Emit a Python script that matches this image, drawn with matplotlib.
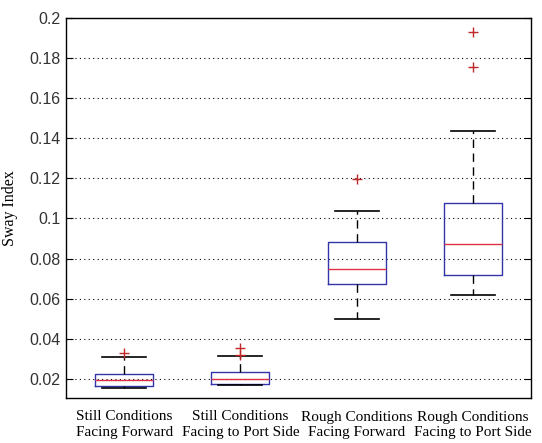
import matplotlib.pyplot as plt

# box statistics
labels = ["Still Conditions\nFacing Forward",
          "Still Conditions\nFacing to Port Side",
          "Rough Conditions\nFacing Forward",
          "Rough Conditions\nFacing to Port Side"]
q1 = [0.0162, 0.0174, 0.0672, 0.0716]
med = [0.0192, 0.0200, 0.0749, 0.0871]
q3 = [0.0225, 0.0232, 0.0882, 0.1078]
whislo = [0.0155, 0.0170, 0.0496, 0.0617]
whishi = [0.0307, 0.0313, 0.1038, 0.1438]
fliers = [[0.0328], [0.0320, 0.0355], [0.1197], [0.1754, 0.1930]]

yticks = [0.02, 0.04, 0.06, 0.08, 0.1, 0.12, 0.14, 0.16, 0.18, 0.2]
ytick_labels = ["0.02", "0.04", "0.06", "0.08", "0.1", "0.12", "0.14", "0.16", "0.18", "0.2"]

stats = []
for i in range(len(labels)):
    stats.append(dict(q1=q1[i], med=med[i], q3=q3[i], whislo=whislo[i],
                      whishi=whishi[i], fliers=fliers[i], label=labels[i]))

fig = plt.figure(figsize=(5.42, 4.43), dpi=100)
ax = fig.add_axes([66 / 542, 45 / 443, 465 / 542, 380 / 443])

ax.bxp(stats, positions=[1, 2, 3, 4], widths=0.5,
       boxprops=dict(color="#3333aa", linewidth=1.0),
       medianprops=dict(color="#dd3344", linewidth=1.0),
       whiskerprops=dict(color="black", linestyle=(0, (6, 4)), linewidth=1.0),
       capprops=dict(color="black", linewidth=1.2),
       flierprops=dict(marker="+", markeredgecolor="#c02828", markersize=7,
                       linestyle="none"),
       capwidths=0.38)

ax.set_xlim(0.5, 4.5)
ax.set_ylim(0.0104, 0.2)
ax.set_yticks(yticks)
ax.set_yticklabels(ytick_labels, family="Liberation Sans", fontsize=11.5, color="#333333")
ax.set_xticklabels(labels, family="Liberation Serif", fontsize=11, linespacing=1.25)
ax.yaxis.grid(True, linestyle=(0, (1, 3)), color="black", linewidth=0.8)
ax.set_axisbelow(True)
ax.tick_params(axis="y", direction="in", right=True, length=5, pad=4)
ax.tick_params(axis="x", length=0, pad=9)
ax.set_ylabel("Sway Index", family="Liberation Serif", fontsize=11.5, labelpad=8)
for s in ax.spines.values():
    s.set_linewidth(1.0)

fig.savefig("out.png", dpi=100)
